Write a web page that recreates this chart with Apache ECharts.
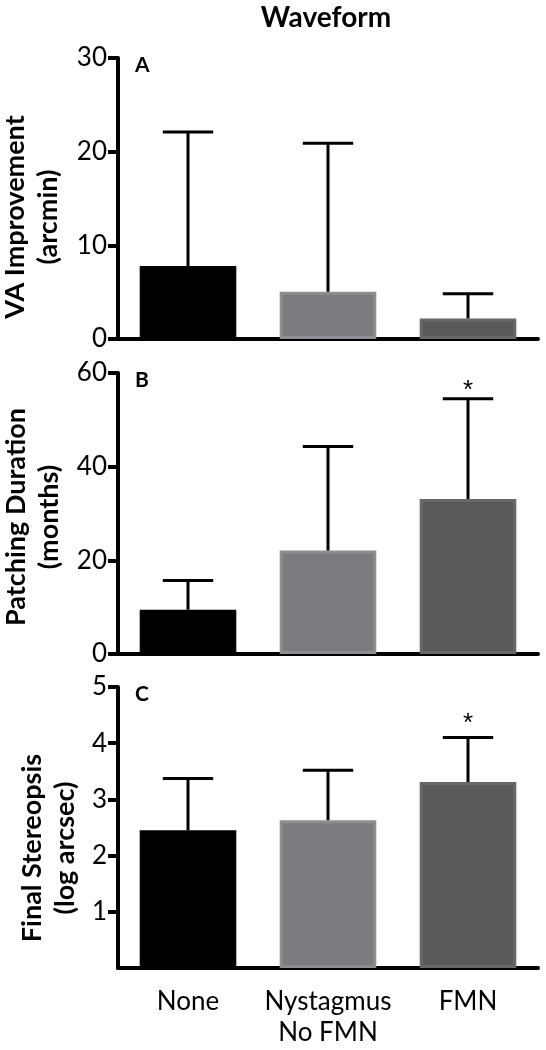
<!DOCTYPE html>
<html>
<head>
<meta charset="utf-8">
<script src="https://cdn.jsdelivr.net/npm/echarts@6/dist/echarts.min.js"></script>
<style>
  html, body { margin: 0; padding: 0; background: #fff; }
  #chart { width: 546px; height: 1050px; }
</style>
</head>
<body>
<div id="chart"></div>
<script>
// ---- data ----
const categories = ['None', 'Nystagmus\nNo FMN', 'FMN'];

const vaMean = [7.8, 5.05, 2.2];
const vaSD = [14.3, 15.85, 2.64];

const patchMean = [9.45, 22.1, 33.1];
const patchSD = [6.25, 22.2, 21.4];

const stereoMean = [2.45, 2.63, 3.31];
const stereoSD = [0.92, 0.89, 0.79];

const vaSig = ['', '', ''];
const patchSig = ['', '', '*'];
const stereoSig = ['', '', '*'];

const yMaxes = [30, 60, 5];
const yIntervals = [10, 20, 1];

const panelLetters = ['A', 'B', 'C'];
const yTitles = ['VA Improvement\n(arcmin)', 'Patching Duration\n(months)', 'Final Stereopsis\n(log arcsec)'];
const chartTitle = 'Waveform';

// ---- layout / style ----
const FONT = 'Lato, "Open Sans", "Noto Sans", sans-serif';
const gridTops = [58, 373, 687];
const gridH = 281;
const gridLeft = 118;
const gridW = 420;
const barStyles = [
  { color: '#000000', borderColor: '#000000', borderWidth: 2 },
  { color: '#7b7a7f', borderColor: '#8e8d92', borderWidth: 3 },
  { color: '#5a5a5a', borderColor: '#686868', borderWidth: 3 }
];
const starOffsets = [0, 8, 14];
const titleCenters = [[32, 217], [33, 517], [49, 848]];

const panels = [
  { mean: vaMean, sd: vaSD, sig: vaSig },
  { mean: patchMean, sd: patchSD, sig: patchSig },
  { mean: stereoMean, sd: stereoSD, sig: stereoSig }
];

function errRender(sigs, starOffset) {
  return function (params, api) {
    const i = api.value(0);
    const base = api.coord([i, api.value(1)]);
    const top = api.coord([i, api.value(2)]);
    const half = api.size([1, 0])[0] * 0.18;
    const st = { stroke: '#000', lineWidth: 3 };
    const children = [
      { type: 'line', shape: { x1: base[0], y1: base[1], x2: top[0], y2: top[1] }, style: st },
      { type: 'line', shape: { x1: top[0] - half, y1: top[1], x2: top[0] + half, y2: top[1] }, style: st }
    ];
    if (sigs[i]) {
      children.push({
        type: 'text', x: top[0], y: top[1] - starOffset,
        style: { text: sigs[i], fill: '#000', font: '26px "Liberation Sans", Arial, sans-serif', textAlign: 'center', textVerticalAlign: 'middle' }
      });
    }
    return { type: 'group', children: children };
  };
}

const grids = [], xAxes = [], yAxes = [], series = [], graphics = [];

panels.forEach((p, k) => {
  grids.push({ left: gridLeft, top: gridTops[k], width: gridW, height: gridH });
  xAxes.push({
    type: 'category', gridIndex: k, data: categories,
    axisLine: { lineStyle: { color: '#000', width: 4 } },
    axisTick: { alignWithLabel: true, length: 11, lineStyle: { color: '#000', width: 4 } },
    axisLabel: { show: k === 2, color: '#000', fontFamily: FONT, fontSize: 26, lineHeight: 31, margin: 18, interval: 0 },
    splitLine: { show: false }
  });
  yAxes.push({
    type: 'value', gridIndex: k, min: 0, max: yMaxes[k], interval: yIntervals[k],
    axisLine: { show: true, lineStyle: { color: '#000', width: 4 } },
    axisTick: { show: true, length: 10, lineStyle: { color: '#000', width: 4 } },
    axisLabel: { color: '#000', fontFamily: FONT, fontSize: 26, margin: 11, padding: [12, 0, 0, 0], showMinLabel: k !== 2 },
    splitLine: { show: false }
  });
  series.push({
    type: 'bar', xAxisIndex: k, yAxisIndex: k, barWidth: '69%',
    data: p.mean.map((v, i) => ({ value: v, itemStyle: barStyles[i] })),
    z: 2, animation: false
  });
  series.push({
    type: 'custom', xAxisIndex: k, yAxisIndex: k,
    renderItem: errRender(p.sig, starOffsets[k]),
    encode: { x: 0, y: [1, 2] },
    data: p.mean.map((v, i) => [i, v, v + p.sd[i]]),
    z: 3, animation: false
  });
  graphics.push({
    type: 'text', x: gridLeft + 17, y: gridTops[k] - 3,
    style: { text: panelLetters[k], fill: '#000', font: 'bold 21px ' + FONT, textAlign: 'left', textVerticalAlign: 'top' }
  });
  graphics.push({
    type: 'text', x: titleCenters[k][0], y: titleCenters[k][1], rotation: Math.PI / 2,
    style: { text: yTitles[k], fill: '#000', font: 'bold 27px ' + FONT, lineHeight: 33, textAlign: 'center', textVerticalAlign: 'middle' }
  });
});

graphics.push({
  type: 'text', x: 326, y: 18,
  style: { text: chartTitle, fill: '#000', font: 'bold 28px ' + FONT, textAlign: 'center', textVerticalAlign: 'middle' }
});

const chart = echarts.init(document.getElementById('chart'), null, { renderer: 'canvas' });
chart.setOption({
  backgroundColor: '#fff',
  animation: false,
  grid: grids,
  xAxis: xAxes,
  yAxis: yAxes,
  series: series,
  graphic: graphics
});
</script>
</body>
</html>
